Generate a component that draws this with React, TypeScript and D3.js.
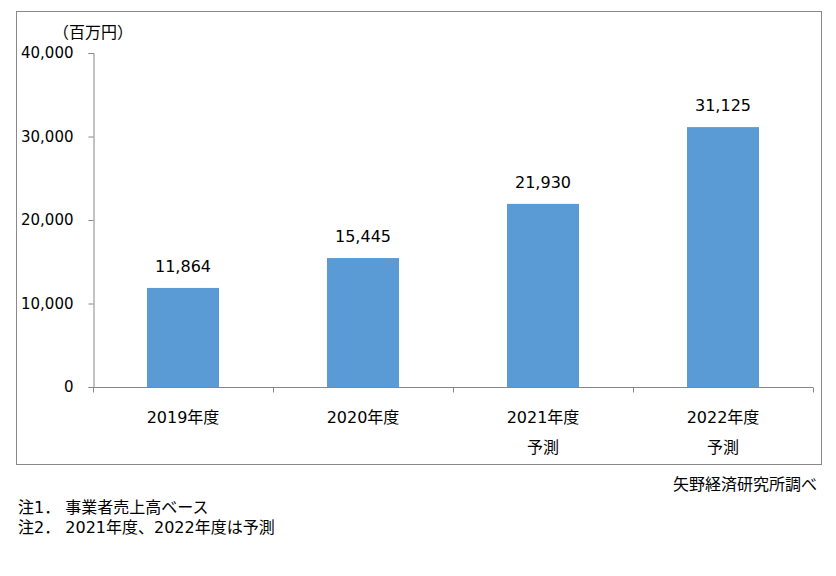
import React, { useEffect, useRef } from "react";
import * as d3 from "d3";

// data
const categories = ["2019年度", "2020年度", "2021年度", "2022年度"];
const subLabels = ["", "", "予測", "予測"];
const values = [11864, 15445, 21930, 31125];
const yTicks = [0, 10000, 20000, 30000, 40000];
const unitLabel = "（百万円）";
const source = "矢野経済研究所調べ";
const notes = ["注1． 事業者売上高ベース", "注2． 2021年度、2022年度は予測"];

const FONT = "'DejaVu Sans', 'Noto Sans CJK JP', sans-serif";

const App: React.FC = () => {
  const ref = useRef<SVGSVGElement>(null);

  useEffect(() => {
    const width = 836;
    const height = 576;
    const margin = { left: 93, right: 23, top: 53, bottom: 189 };

    const svg = d3.select(ref.current).attr("width", width).attr("height", height);
    svg.selectAll("*").remove();

    // outer frame
    svg.append("rect")
      .attr("x", 16.5).attr("y", 11.5)
      .attr("width", 805).attr("height", 453)
      .attr("fill", "none").attr("stroke", "#898989").attr("stroke-width", 1);

    const x = d3.scaleBand()
      .domain(categories)
      .range([margin.left, width - margin.right])
      .paddingInner(0.6).paddingOuter(0.3);

    const y = d3.scaleLinear()
      .domain([0, 40000])
      .range([height - margin.bottom, margin.top]);

    // y axis
    const yAxis = d3.axisLeft(y)
      .tickValues(yTicks)
      .tickFormat(d3.format(","))
      .tickSize(5)
      .tickPadding(15);
    const gy = svg.append("g")
      .attr("transform", `translate(${margin.left + 0.5},0)`)
      .call(yAxis);
    gy.select(".domain").attr("stroke", "#868686");
    gy.selectAll(".tick line").attr("stroke", "#868686");
    gy.selectAll(".tick text")
      .attr("font-family", FONT).attr("font-size", 15).attr("fill", "#000");

    // x axis line and category ticks
    const base = y(0) + 0.5;
    svg.append("line")
      .attr("x1", margin.left).attr("x2", width - margin.right)
      .attr("y1", base).attr("y2", base)
      .attr("stroke", "#868686");
    const step = x.step();
    const bounds = d3.range(categories.length + 1).map(i => margin.left + i * step);
    svg.selectAll(".xt").data(bounds).enter().append("line")
      .attr("x1", d => Math.round(d) + 0.5).attr("x2", d => Math.round(d) + 0.5)
      .attr("y1", base).attr("y2", base + 5)
      .attr("stroke", "#868686");

    // bars
    svg.selectAll(".bar").data(values).enter().append("rect")
      .attr("x", (_, i) => x(categories[i])!)
      .attr("y", d => y(d))
      .attr("width", x.bandwidth())
      .attr("height", d => y(0) - y(d))
      .attr("fill", "#5B9BD5");

    // value labels
    svg.selectAll(".val").data(values).enter().append("text")
      .attr("x", (_, i) => x(categories[i])! + x.bandwidth() / 2)
      .attr("y", d => y(d) - 16)
      .attr("text-anchor", "middle")
      .attr("font-family", FONT).attr("font-size", 16)
      .text(d => d3.format(",")(d));

    // category labels
    categories.forEach((c, i) => {
      const cx = x(c)! + x.bandwidth() / 2;
      svg.append("text")
        .attr("x", cx).attr("y", 423)
        .attr("text-anchor", "middle")
        .attr("font-family", FONT).attr("font-size", 16)
        .text(c);
      if (subLabels[i]) {
        svg.append("text")
          .attr("x", cx).attr("y", 453)
          .attr("text-anchor", "middle")
          .attr("font-family", FONT).attr("font-size", 16)
          .text(subLabels[i]);
      }
    });

    // unit label
    svg.append("text")
      .attr("x", 53).attr("y", 38)
      .attr("font-family", FONT).attr("font-size", 16)
      .text(unitLabel);

    // source
    svg.append("text")
      .attr("x", 817).attr("y", 490)
      .attr("text-anchor", "end")
      .attr("font-family", FONT).attr("font-size", 16)
      .text(source);

    // notes
    notes.forEach((n, i) => {
      svg.append("text")
        .attr("x", 18).attr("y", 513 + i * 20)
        .attr("font-family", FONT).attr("font-size", 16)
        .style("white-space", "pre")
        .text(n);
    });
  }, []);

  return (
    <svg ref={ref} style={{ position: "absolute", left: 0, top: 0, background: "#fff" }} />
  );
};

export default App;
